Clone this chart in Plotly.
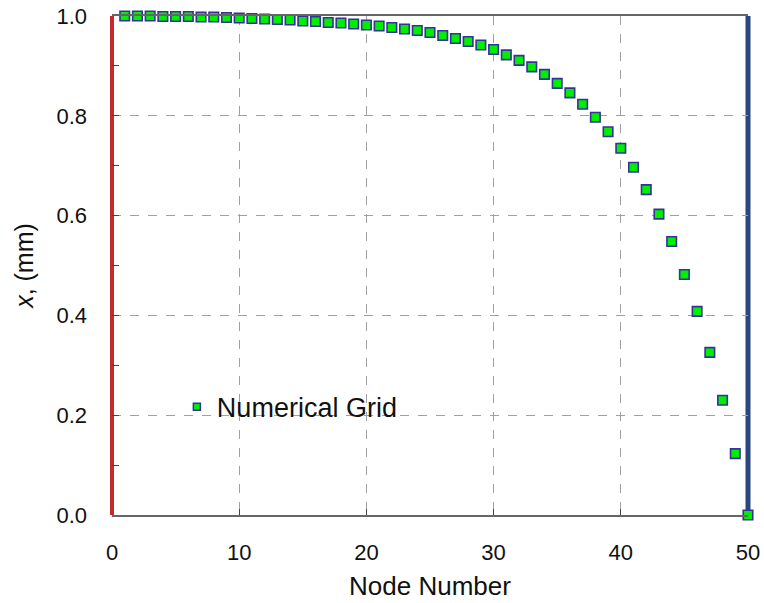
import plotly.graph_objects as go

nodes = list(range(1, 51))
x_mm = [1.000, 1.000, 1.000, 0.999, 0.999, 0.999, 0.998, 0.998, 0.997, 0.996,
        0.995, 0.994, 0.993, 0.992, 0.990, 0.989, 0.987, 0.986, 0.984, 0.982,
        0.980, 0.977, 0.974, 0.971, 0.967, 0.961, 0.955, 0.949, 0.942, 0.933,
        0.922, 0.911, 0.898, 0.883, 0.865, 0.846, 0.823, 0.797, 0.768, 0.735,
        0.697, 0.652, 0.603, 0.548, 0.482, 0.408, 0.326, 0.230, 0.123, 0.000]

x_ticks = [0, 10, 20, 30, 40, 50]
y_ticks = [0.0, 0.2, 0.4, 0.6, 0.8, 1.0]
y_tick_labels = ["0.0", "0.2", "0.4", "0.6", "0.8", "1.0"]
x_range = [0, 50]
left_boundary = 0
right_boundary = 50

FONT = "Liberation Sans, Arial, sans-serif"

fig = go.Figure()

fig.add_trace(go.Scatter(
    x=nodes, y=x_mm, mode="markers", showlegend=False,
    marker=dict(symbol="square", size=9.5, color="#00ee00",
                line=dict(color="#333399", width=1.6)),
    cliponaxis=False,
))
fig.add_trace(go.Scatter(
    x=[None], y=[None], mode="markers", name="Numerical Grid",
    marker=dict(symbol="square", size=7, color="#00ee00",
                line=dict(color="#333399", width=1.5)),
))


def to_paper(v):
    return (v - x_range[0]) / (x_range[1] - x_range[0])


fig.add_shape(type="line", xref="paper", yref="y",
              x0=to_paper(left_boundary), x1=to_paper(left_boundary),
              y0=0, y1=1, line=dict(color="#c62a2e", width=4), layer="between")
fig.add_shape(type="line", xref="paper", yref="y",
              x0=to_paper(right_boundary), x1=to_paper(right_boundary),
              y0=0, y1=1, line=dict(color="#2a4680", width=5), layer="between")

fig.update_layout(
    width=764, height=603,
    margin=dict(l=112, r=16, t=16, b=88),
    paper_bgcolor="white", plot_bgcolor="white",
    font=dict(family=FONT, size=22, color="#111111"),
    legend=dict(x=0.102, y=0.216, xanchor="left", yanchor="middle",
                bgcolor="rgba(0,0,0,0)", font=dict(size=27, color="#111111"),
                itemwidth=30, tracegroupgap=0),
)

fig.update_xaxes(
    range=x_range, tickvals=x_ticks, ticks="inside", ticklen=6, tickcolor="#444",
    showline=True, linecolor="#666666", linewidth=1.5, mirror=True,
    showgrid=True, gridcolor="#a0a0a0", griddash="dash", gridwidth=1,
    zeroline=False, ticklabelstandoff=17, automargin=False,
    title=dict(text="Node Number", font=dict(size=26), standoff=13),
)
fig.update_yaxes(
    range=[0, 1], tickvals=y_ticks, ticktext=y_tick_labels, ticks="inside",
    ticklen=7, tickcolor="#444",
    minor=dict(dtick=0.1, ticks="inside", ticklen=7, tickcolor="#444", showgrid=False),
    showline=False, showgrid=True, gridcolor="#a0a0a0", griddash="dash", gridwidth=1,
    zeroline=False, ticklabelstandoff=24, automargin=False,
    title=dict(text="<i>x</i>, (mm)", font=dict(size=25), standoff=15),
)

fig.write_html("out.html")
